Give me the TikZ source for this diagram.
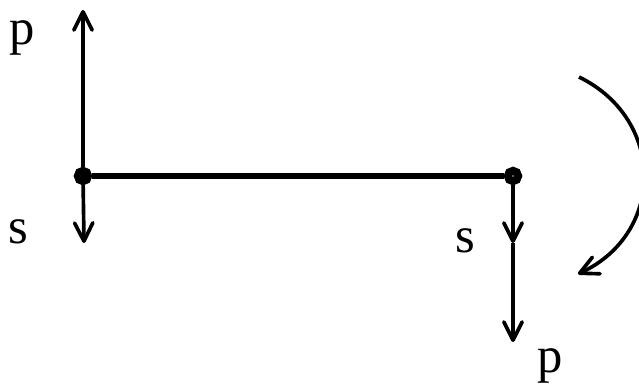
\documentclass[tikz,border=0pt]{standalone}
\usepackage{fontspec}
\setmainfont{Liberation Serif}
\usetikzlibrary{arrows.meta}

\begin{document}
\begin{tikzpicture}[
    x=0.025cm, y=0.025cm,
    >={Straight Barb[length=13pt,width=13pt,round]},
    every node/.style={font=\fontsize{36}{36}\selectfont},
    force/.style={->, line width=2.6pt},
    beam/.style={line width=4.2pt},
    joint/.style={circle, draw, fill=black, inner sep=0pt, minimum size=7.25pt, line width=5.75pt},
    pinned/.style={joint, fill=white},
    letter/.style={anchor=base, inner sep=0pt}
]
\useasboundingbox (0,0) rectangle (639,383);

% Nodes
\node[joint] (left) at (83,207) {};
\node[pinned] (right) at (513,207) {};
\coordinate (lefttop) at (83,373);
\coordinate (leftlow) at (84,140);
\coordinate (rightmid) at (513,140);
\coordinate (rightlow) at (513,41);
\coordinate (turnstart) at (579,306);
\coordinate (turnend) at (578,109);

% Labels
\node[letter] (pleft) at (22,338) {p};
\node[letter] (sleft) at (18,140) {s};
\node[letter] (sright) at (465,131) {s};
\node[letter] (pright) at (550,11) {p};

% Edges
\draw[beam] (left) -- (right);
\draw[force] (left) -- (lefttop);
\draw[force] (left) -- (leftlow);
\draw[force] (right) -- (rightmid);
\draw[force] (rightmid) -- (rightlow);
\draw[force] (turnstart) to[out=-26, in=25, looseness=1.25] (turnend);

\end{tikzpicture}
\end{document}
